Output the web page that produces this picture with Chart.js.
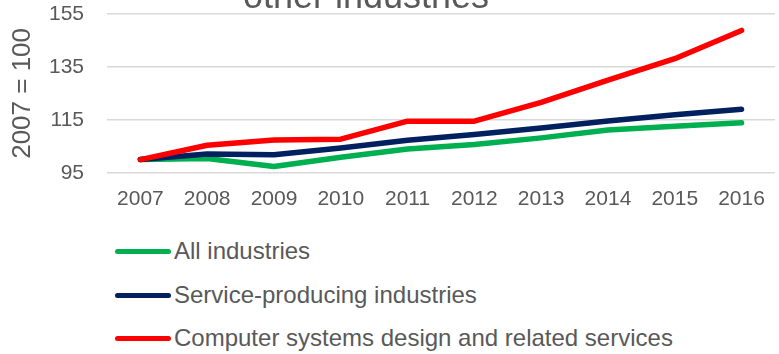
<!DOCTYPE html>
<html>
<head>
<meta charset="utf-8">
<script src="https://cdn.jsdelivr.net/npm/chart.js@4.4.1/dist/chart.umd.min.js"></script>
<style>
  html, body { margin: 0; padding: 0; background: #ffffff; overflow: hidden; }
  body { width: 779px; height: 354px; position: relative; font-family: "Liberation Sans", Arial, sans-serif; }
  #wrap { position: absolute; left: 0; top: 0; width: 779px; height: 236px; }
  #legend { position: absolute; left: 0; top: 0; width: 779px; }
  .item { position: absolute; left: 115px; height: 30px; display: flex; align-items: center; }
  .sw { width: 56px; height: 5px; border-radius: 3px; margin-right: 3px; }
  .lbl { font-size: 24px; color: #595959; white-space: nowrap; }
</style>
</head>
<body>
<div id="wrap"><canvas id="c"></canvas></div>
<div id="legend"></div>
<script>
const titleText = "other industries";
const yAxisTitle = "2007 = 100";
const years = ["2007", "2008", "2009", "2010", "2011", "2012", "2013", "2014", "2015", "2016"];
const allIndustries = [100, 100.4, 97.4, 100.9, 104.0, 105.7, 108.2, 111.2, 112.6, 113.9];
const serviceProducing = [100, 102.1, 101.8, 104.4, 107.3, 109.5, 111.9, 114.6, 116.9, 119.0];
const computerSystems = [100, 105.4, 107.4, 107.7, 114.5, 114.5, 121.6, 130.0, 138.1, 148.8];
const seriesNames = ["All industries", "Service-producing industries", "Computer systems design and related services"];
const seriesColors = ["#00B050", "#002060", "#FF0000"];
const yTicks = [95, 115, 135, 155];

const textColor = "#595959";

const titlePlugin = {
  id: "cutTitle",
  afterDraw(chart) {
    const ctx = chart.ctx;
    ctx.save();
    ctx.font = "36px 'Liberation Sans', Arial, sans-serif";
    ctx.fillStyle = textColor;
    ctx.textAlign = "center";
    ctx.textBaseline = "alphabetic";
    ctx.fillText(titleText, 366, 8);
    ctx.restore();
  }
};

const seriesData = [allIndustries, serviceProducing, computerSystems];
const datasets = seriesData.map((d, i) => ({
  label: seriesNames[i],
  data: d,
  borderColor: seriesColors[i],
  backgroundColor: seriesColors[i],
  borderWidth: 5.5,
  borderCapStyle: "round",
  borderJoinStyle: "round",
  pointRadius: 0,
  tension: 0,
  fill: false,
  order: 3 - i
}));

const chart = new Chart(document.getElementById("c"), {
  type: "line",
  data: { labels: years, datasets: datasets },
  options: {
    responsive: true,
    maintainAspectRatio: false,
    animation: false,
    layout: { padding: { top: 14, right: 2, bottom: 10, left: 0 } },
    plugins: {
      legend: { display: false },
      tooltip: { enabled: false },
      title: { display: false }
    },
    scales: {
      x: {
        offset: true,
        grid: { display: false, drawTicks: false },
        border: { display: false },
        ticks: {
          color: textColor,
          font: { family: "'Liberation Sans', Arial, sans-serif", size: 21 },
          padding: 14,
          maxRotation: 0,
          autoSkip: false
        }
      },
      y: {
        min: 95,
        max: 155,
        afterFit(scale) { scale.width = 107; },
        afterBuildTicks(scale) { scale.ticks = yTicks.map(v => ({ value: v })); },
        grid: { color: "#d9d9d9", lineWidth: 1.5, drawTicks: true, tickLength: 23, tickColor: "rgba(0,0,0,0)" },
        border: { display: false },
        ticks: {
          color: textColor,
          font: { family: "'Liberation Sans', Arial, sans-serif", size: 21 },
          padding: 0
        },
        title: {
          display: true,
          text: yAxisTitle,
          color: textColor,
          font: { family: "'Liberation Sans', Arial, sans-serif", size: 26 },
          padding: { top: 7, bottom: 0 }
        }
      }
    }
  },
  plugins: [titlePlugin]
});

// HTML legend built from the chart's datasets
const legendEl = document.getElementById("legend");
const rowCenters = [251, 295, 338];
chart.data.datasets.forEach((ds, i) => {
  const item = document.createElement("div");
  item.className = "item";
  item.style.top = (rowCenters[i] - 15) + "px";
  const sw = document.createElement("div");
  sw.className = "sw";
  sw.style.background = ds.borderColor;
  const lbl = document.createElement("span");
  lbl.className = "lbl";
  lbl.textContent = ds.label;
  item.appendChild(sw);
  item.appendChild(lbl);
  legendEl.appendChild(item);
});
</script>
</body>
</html>
